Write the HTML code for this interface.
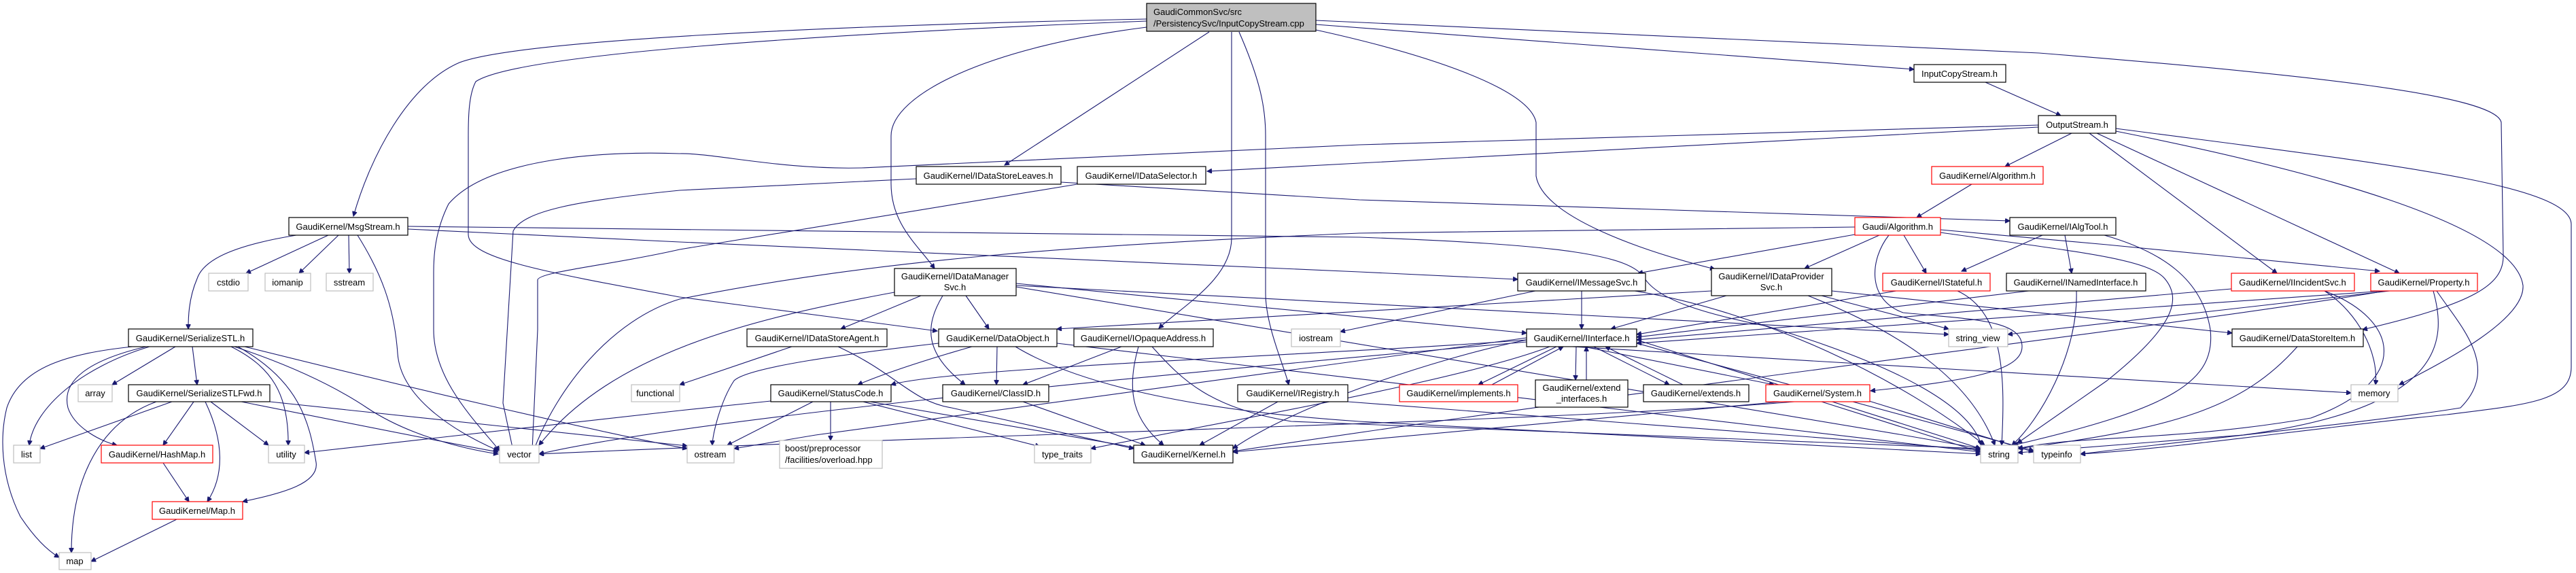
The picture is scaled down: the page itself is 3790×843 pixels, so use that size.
<!DOCTYPE html>
<html><head><meta charset="utf-8"><style>
html,body{margin:0;padding:0;background:#fff;}
svg{display:block;}
text{font-family:"Liberation Sans",sans-serif;font-size:13px;fill:#000;}
.e{fill:none;stroke:#191970;stroke-width:1.1;marker-end:url(#a);}
</style></head><body>
<svg width="3790" height="843" viewBox="0 0 3790 843" xmlns="http://www.w3.org/2000/svg">
<defs><marker id="a" viewBox="0 0 10 10" refX="9.5" refY="5" markerWidth="9" markerHeight="7" markerUnits="userSpaceOnUse" orient="auto"><path d="M0,0 L10,5 L0,10 z" fill="#191970" stroke="#191970"/></marker></defs>
<g>
<path class="e" d="M1687,28 C1200,38 760,60 676,92 C600,125 545,230 520,318"/>
<path class="e" d="M1687,31 C1200,50 760,80 700,120 C689,140 689,178 689,200 L689,345 C689,380 800,400 1000,437 L1379,487"/>
<path class="e" d="M1687,40 C1450,70 1311,140 1311,200 L1311,270 C1311,330 1350,360 1375,395"/>
<path class="e" d="M1779,47 L1478,243"/>
<path class="e" d="M1812,47 L1812,350 C1812,410 1740,450 1705,483"/>
<path class="e" d="M1823,47 C1855,120 1862,160 1862,200 L1862,431 C1862,480 1890,540 1896,566"/>
<path class="e" d="M1936,44 C2100,80 2250,130 2260,180 L2260,259 C2270,320 2420,370 2523,396"/>
<path class="e" d="M1936,36 L2816,102"/>
<path class="e" d="M1936,30 L3000,78 C3400,110 3672,140 3680,180 L3683,377 C3683,420 3638,447 3476,485"/>
<path class="e" d="M2921,121 L3032,170"/>
<path class="e" d="M2999,187 L2000,240 L1776,252"/>
<path class="e" d="M2999,184 L2000,213 L1268,247 C1150,250 1050,225 1000,226 C900,222 720,230 660,300 C640,340 638,377 638,400 L638,485 C638,560 700,620 735,663"/>
<path class="e" d="M3048,196 L2950,245"/>
<path class="e" d="M3074,196 L3350,402"/>
<path class="e" d="M3085,196 L3530,402"/>
<path class="e" d="M3113,193 C3400,250 3700,330 3712,420 C3715,470 3600,530 3530,566"/>
<path class="e" d="M3113,189 C3500,240 3783,270 3783,330 L3783,540 C3783,590 3720,595 3600,610 C3400,630 3200,660 3061,668"/>
<path class="e" d="M2901,271 L2820,320"/>
<path class="e" d="M2729,345 L2410,402"/>
<path class="e" d="M2765,346 L2655,395"/>
<path class="e" d="M2801,346 L2834,402"/>
<path class="e" d="M2779,346 C2752,380 2745,440 2800,460 C2900,470 2975,470 2975,510 C2975,545 2900,560 2752,575"/>
<path class="e" d="M2855,338 L3100,360 L3501,399"/>
<path class="e" d="M2855,342 C3050,370 3160,380 3185,410 C3210,440 3200,480 3100,560 L2968,652"/>
<path class="e" d="M2729,334 L2000,343 C1600,360 1300,380 1000,440 C900,470 820,570 785,663"/>
<path class="e" d="M3005,346 L2886,399"/>
<path class="e" d="M3038,346 L3048,402"/>
<path class="e" d="M3096,346 C3180,370 3240,410 3252,485 C3260,560 3200,600 2962,655"/>
<path class="e" d="M1561,268 L2000,294 L2957,325"/>
<path class="e" d="M1348,263 L1000,280 C850,295 770,310 755,340 L740,593 L755,663"/>
<path class="e" d="M1585,271 L1000,367 C900,390 791,400 791,412 L791,485 L783,663"/>
<path class="e" d="M483,346 L362,402"/>
<path class="e" d="M498,346 L440,402"/>
<path class="e" d="M513,346 L514,402"/>
<path class="e" d="M436,346 C350,360 300,380 290,410 C277,440 277,470 277,484"/>
<path class="e" d="M526,346 C560,400 580,450 585,520 C590,590 680,640 733,663"/>
<path class="e" d="M600,337 L1000,356 L2000,400 L2233,411"/>
<path class="e" d="M600,333 L2000,349 C2300,360 2400,375 2420,410 C2440,440 2500,460 2600,480 C2800,540 2900,600 2915,655"/>
<path class="e" d="M220,510 C120,540 50,600 43,655"/>
<path class="e" d="M195,510 C100,520 30,540 10,600 C0,640 0,700 30,760 C50,790 70,810 87,820"/>
<path class="e" d="M215,510 C130,530 90,560 100,600 C110,630 150,650 172,655"/>
<path class="e" d="M258,510 L165,566"/>
<path class="e" d="M283,510 L290,566"/>
<path class="e" d="M340,510 C400,540 425,580 424,655"/>
<path class="e" d="M350,510 C440,560 455,620 465,680 C470,710 420,725 357,738"/>
<path class="e" d="M345,510 C450,545 510,580 540,600 C600,640 680,660 733,668"/>
<path class="e" d="M360,510 C600,570 900,640 1011,660"/>
<path class="e" d="M253,591 L59,660"/>
<path class="e" d="M230,591 C150,620 105,700 105,813"/>
<path class="e" d="M285,591 L240,655"/>
<path class="e" d="M302,591 C330,650 330,700 305,738"/>
<path class="e" d="M310,591 L395,655"/>
<path class="e" d="M355,591 C500,620 650,650 733,665"/>
<path class="e" d="M397,591 L1011,656"/>
<path class="e" d="M240,681 L278,738"/>
<path class="e" d="M260,764 L134,826"/>
<path class="e" d="M1355,435 L1237,484"/>
<path class="e" d="M1421,435 L1455,484"/>
<path class="e" d="M1387,435 C1360,480 1360,520 1420,566"/>
<path class="e" d="M1316,430 C1100,470 900,520 793,655"/>
<path class="e" d="M1495,417 L2246,490"/>
<path class="e" d="M1495,422 L2800,640 L2914,660"/>
<path class="e" d="M1495,420 L2867,492"/>
<path class="e" d="M1165,510 L1000,566"/>
<path class="e" d="M1233,510 C1320,550 1340,590 1400,600 L1668,660"/>
<path class="e" d="M1467,510 L1466,566"/>
<path class="e" d="M1430,510 C1360,530 1300,550 1262,566"/>
<path class="e" d="M1381,505 C1250,520 1100,540 1080,560 C1060,590 1048,640 1048,655"/>
<path class="e" d="M1555,505 L2914,665"/>
<path class="e" d="M1494,510 C1560,550 1700,600 2000,620 L2914,668"/>
<path class="e" d="M1650,510 L1505,566"/>
<path class="e" d="M1675,510 C1655,580 1670,620 1712,655"/>
<path class="e" d="M1695,510 C1740,560 1780,600 1900,620 L2914,660"/>
<path class="e" d="M1196,591 L1070,655"/>
<path class="e" d="M1222,591 L1222,648"/>
<path class="e" d="M1270,591 L1530,657"/>
<path class="e" d="M1280,591 L1680,660"/>
<path class="e" d="M1134,590 L1000,604 L448,666"/>
<path class="e" d="M1505,591 L1685,655"/>
<path class="e" d="M1880,591 L1765,655"/>
<path class="e" d="M1983,591 L2914,662"/>
<path class="e" d="M2246,500 C2100,530 1900,600 1814,660"/>
<path class="e" d="M2246,497 L1200,640 L1080,660"/>
<path class="e" d="M2280,510 C2150,560 1800,620 1605,660"/>
<path class="e" d="M2246,503 C1600,560 1000,620 793,668"/>
<path class="e" d="M2408,500 L2914,660"/>
<path class="e" d="M2408,505 L2992,663"/>
<path class="e" d="M2246,506 L3459,578"/>
<path class="e" d="M2330,510 L2610,566"/>
<path class="e" d="M2290,510 L2175,566"/>
<path class="e" d="M2195,566 L2300,510"/>
<path class="e" d="M2319,510 L2318,559"/>
<path class="e" d="M2334,559 L2334,510"/>
<path class="e" d="M2345,510 L2456,566"/>
<path class="e" d="M2476,566 L2362,510"/>
<path class="e" d="M2246,500 C2000,520 1400,540 1311,566"/>
<path class="e" d="M2327,428 L2327,484"/>
<path class="e" d="M2259,428 L1972,488"/>
<path class="e" d="M2405,428 C2600,460 2800,560 2920,655"/>
<path class="e" d="M2540,435 L2370,484"/>
<path class="e" d="M2518,428 L1555,484"/>
<path class="e" d="M2680,435 L2867,484"/>
<path class="e" d="M2660,435 C2800,490 2900,560 2935,655"/>
<path class="e" d="M2695,428 L3284,490"/>
<path class="e" d="M2790,428 L2408,492"/>
<path class="e" d="M2880,428 C2950,460 2950,560 2945,655"/>
<path class="e" d="M2985,428 L2408,496"/>
<path class="e" d="M3055,428 C3058,520 3000,620 2960,655"/>
<path class="e" d="M3283,425 L2408,500"/>
<path class="e" d="M3420,428 C3470,460 3500,520 3495,566"/>
<path class="e" d="M3420,428 C3530,470 3550,560 3400,615 C3200,650 3050,640 2969,660"/>
<path class="e" d="M3508,428 L2408,505"/>
<path class="e" d="M3516,428 L2954,492"/>
<path class="e" d="M3510,428 C3200,480 2500,560 1814,664"/>
<path class="e" d="M3580,428 C3600,500 3600,600 3300,640 L2969,666"/>
<path class="e" d="M3585,428 C3620,480 3680,540 3620,600 C3500,620 3200,650 3061,668"/>
<path class="e" d="M3380,510 C3300,600 3200,630 2969,660"/>
<path class="e" d="M2680,591 L2914,665"/>
<path class="e" d="M2750,590 L2992,665"/>
<path class="e" d="M2640,591 C2300,620 1400,640 793,668"/>
<path class="e" d="M2620,591 L1814,665"/>
</g>
<g stroke-width="1.2">
<rect x="1687" y="5" width="249" height="41" fill="#bfbfbf" stroke="#000"/>
<text x="1697" y="22">GaudiCommonSvc/src</text>
<text x="1697" y="39">/PersistencySvc/InputCopyStream.cpp</text>
<g fill="#fff" stroke="#000">
<rect x="425" y="320" width="175" height="26"/>
<rect x="189" y="484" width="183" height="26"/>
<rect x="189" y="566" width="208" height="25"/>
<rect x="1348" y="245" width="213" height="26"/>
<rect x="1585" y="245" width="189" height="26"/>
<rect x="1316" y="395" width="179" height="40"/>
<rect x="1099" y="484" width="206" height="26"/>
<rect x="1381" y="484" width="174" height="26"/>
<rect x="1580" y="484" width="205" height="26"/>
<rect x="1134" y="566" width="177" height="25"/>
<rect x="1387" y="566" width="156" height="25"/>
<rect x="1821" y="566" width="162" height="25"/>
<rect x="1668" y="655" width="146" height="26"/>
<rect x="2816" y="95" width="135" height="26"/>
<rect x="2999" y="170" width="114" height="26"/>
<rect x="2957" y="320" width="156" height="26"/>
<rect x="2233" y="402" width="188" height="26"/>
<rect x="2518" y="395" width="177" height="40"/>
<rect x="2952" y="402" width="205" height="26"/>
<rect x="2246" y="484" width="162" height="26"/>
<rect x="3284" y="484" width="193" height="26"/>
<rect x="2259" y="559" width="136" height="40"/>
<rect x="2418" y="566" width="155" height="25"/>
</g>
<g fill="#fff" stroke="#ff0000">
<rect x="149" y="655" width="164" height="26"/>
<rect x="224" y="738" width="133" height="26"/>
<rect x="2842" y="245" width="164" height="26"/>
<rect x="2729" y="320" width="126" height="26"/>
<rect x="2770" y="402" width="158" height="26"/>
<rect x="3283" y="402" width="181" height="26"/>
<rect x="3488" y="402" width="157" height="26"/>
<rect x="2059" y="566" width="174" height="25"/>
<rect x="2598" y="566" width="153" height="25"/>
</g>
<g fill="#fff" stroke="#bfbfbf">
<rect x="307" y="402" width="58" height="26"/>
<rect x="390" y="402" width="67" height="26"/>
<rect x="480" y="402" width="69" height="26"/>
<rect x="115" y="566" width="50" height="25"/>
<rect x="929" y="566" width="71" height="25"/>
<rect x="20" y="655" width="39" height="26"/>
<rect x="395" y="655" width="53" height="26"/>
<rect x="735" y="655" width="58" height="26"/>
<rect x="87" y="813" width="47" height="25"/>
<rect x="1900" y="484" width="72" height="26"/>
<rect x="1011" y="655" width="69" height="26"/>
<rect x="1147" y="648" width="151" height="41"/>
<rect x="1522" y="655" width="83" height="26"/>
<rect x="2867" y="484" width="87" height="26"/>
<rect x="3459" y="566" width="69" height="25"/>
<rect x="2914" y="655" width="55" height="26"/>
<rect x="2992" y="655" width="69" height="26"/>
</g>
</g>
<g text-anchor="middle">
<text x="512" y="338">GaudiKernel/MsgStream.h</text>
<text x="280" y="502">GaudiKernel/SerializeSTL.h</text>
<text x="293" y="583">GaudiKernel/SerializeSTLFwd.h</text>
<text x="1454" y="263">GaudiKernel/IDataStoreLeaves.h</text>
<text x="1679" y="263">GaudiKernel/IDataSelector.h</text>
<text x="1405" y="411">GaudiKernel/IDataManager</text>
<text x="1405" y="427">Svc.h</text>
<text x="1202" y="502">GaudiKernel/IDataStoreAgent.h</text>
<text x="1468" y="502">GaudiKernel/DataObject.h</text>
<text x="1682" y="502">GaudiKernel/IOpaqueAddress.h</text>
<text x="1222" y="583">GaudiKernel/StatusCode.h</text>
<text x="1465" y="583">GaudiKernel/ClassID.h</text>
<text x="1902" y="583">GaudiKernel/IRegistry.h</text>
<text x="1741" y="673">GaudiKernel/Kernel.h</text>
<text x="2883" y="113">InputCopyStream.h</text>
<text x="3056" y="188">OutputStream.h</text>
<text x="3035" y="338">GaudiKernel/IAlgTool.h</text>
<text x="2327" y="420">GaudiKernel/IMessageSvc.h</text>
<text x="2606" y="411">GaudiKernel/IDataProvider</text>
<text x="2606" y="427">Svc.h</text>
<text x="3054" y="420">GaudiKernel/INamedInterface.h</text>
<text x="2327" y="502">GaudiKernel/IInterface.h</text>
<text x="3380" y="502">GaudiKernel/DataStoreItem.h</text>
<text x="2327" y="575">GaudiKernel/extend</text>
<text x="2327" y="591">_interfaces.h</text>
<text x="2495" y="583">GaudiKernel/extends.h</text>
<text x="231" y="673">GaudiKernel/HashMap.h</text>
<text x="290" y="756">GaudiKernel/Map.h</text>
<text x="2924" y="263">GaudiKernel/Algorithm.h</text>
<text x="2792" y="338">Gaudi/Algorithm.h</text>
<text x="2849" y="420">GaudiKernel/IStateful.h</text>
<text x="3373" y="420">GaudiKernel/IIncidentSvc.h</text>
<text x="3566" y="420">GaudiKernel/Property.h</text>
<text x="2146" y="583">GaudiKernel/implements.h</text>
<text x="2674" y="583">GaudiKernel/System.h</text>
<text x="336" y="420">cstdio</text>
<text x="423" y="420">iomanip</text>
<text x="514" y="420">sstream</text>
<text x="140" y="583">array</text>
<text x="964" y="583">functional</text>
<text x="39" y="673">list</text>
<text x="421" y="673">utility</text>
<text x="764" y="673">vector</text>
<text x="110" y="830">map</text>
<text x="1936" y="502">iostream</text>
<text x="1045" y="673">ostream</text>
<text x="1563" y="673">type_traits</text>
<text x="2910" y="502">string_view</text>
<text x="3493" y="583">memory</text>
<text x="2941" y="673">string</text>
<text x="3026" y="673">typeinfo</text>
</g>
<text x="1155" y="664">boost/preprocessor</text>
<text x="1155" y="681">/facilities/overload.hpp</text>
</svg>
</body></html>
